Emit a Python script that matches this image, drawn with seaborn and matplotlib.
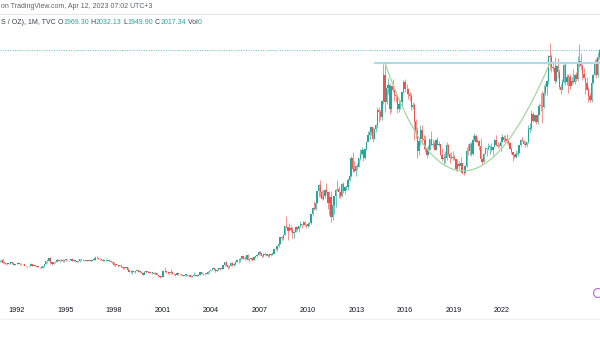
import numpy as np
import pandas as pd
import matplotlib
matplotlib.use("Agg")
import matplotlib.pyplot as plt
import seaborn as sns
from matplotlib.path import Path
from matplotlib.patches import PathPatch, Ellipse
from matplotlib.lines import Line2D
import matplotlib.transforms as mtransforms

# ---------------- data (monthly gold, USD / oz) ----------------
start_month = "1990-11-01"
first_open = 380.0

closes = [
    384, 386,  # 1990 Nov-Dec
    366, 363, 356, 357, 360, 368, 362, 347, 354, 358, 366, 353,  # 1991
    354, 353, 341, 337, 337, 343, 357, 340, 349, 339, 334, 333,  # 1992
    330, 328, 337, 355, 378, 378, 401, 371, 355, 369, 371, 391,  # 1993
    378, 381, 389, 376, 387, 386, 384, 385, 394, 383, 383, 383,  # 1994
    375, 376, 392, 389, 385, 387, 383, 382, 384, 383, 387, 387,  # 1995
    405, 400, 396, 392, 391, 382, 385, 387, 379, 379, 371, 369,  # 1996
    345, 358, 348, 340, 345, 334, 326, 325, 332, 311, 296, 290,  # 1997
    304, 297, 301, 310, 293, 296, 288, 273, 294, 292, 294, 288,  # 1998
    287, 287, 279, 286, 268, 261, 255, 255, 299, 299, 292, 290,  # 1999
    283, 293, 278, 275, 272, 288, 276, 277, 273, 264, 269, 273,  # 2000
    266, 267, 258, 264, 266, 270, 266, 273, 293, 279, 275, 279,  # 2001
    282, 297, 302, 308, 326, 318, 304, 312, 324, 317, 319, 347,  # 2002
    368, 347, 334, 338, 364, 346, 354, 375, 385, 384, 398, 416,  # 2003
    402, 396, 427, 387, 395, 395, 391, 408, 415, 428, 453, 438,  # 2004
    422, 435, 428, 435, 417, 435, 429, 433, 473, 470, 495, 513,  # 2005
    568, 556, 582, 654, 643, 614, 633, 624, 599, 604, 646, 632,  # 2006
    650, 665, 663, 679, 659, 650, 666, 672, 743, 789, 783, 834,  # 2007
    923, 971, 917, 864, 885, 928, 913, 833, 880, 718, 816, 882,  # 2008
    928, 942, 916, 883, 979, 926, 954, 955, 1008, 1040, 1182, 1096,  # 2009
    1081, 1118, 1113, 1180, 1213, 1244, 1181, 1248, 1307, 1357, 1386, 1421,  # 2010
    1332, 1410, 1439, 1556, 1536, 1500, 1628, 1826, 1620, 1722, 1746, 1565,  # 2011
    1738, 1710, 1669, 1664, 1560, 1604, 1614, 1692, 1773, 1719, 1714, 1676,  # 2012
    1663, 1578, 1596, 1472, 1393, 1234, 1312, 1396, 1327, 1323, 1250, 1202,  # 2013
    1244, 1326, 1284, 1291, 1246, 1322, 1282, 1287, 1208, 1171, 1183, 1184,  # 2014
    1283, 1213, 1183, 1183, 1190, 1172, 1095, 1133, 1115, 1142, 1065, 1061,  # 2015
    1118, 1238, 1233, 1293, 1215, 1322, 1351, 1309, 1316, 1277, 1173, 1152,  # 2016
    1211, 1249, 1249, 1268, 1268, 1242, 1269, 1322, 1280, 1271, 1275, 1303,  # 2017
    1345, 1318, 1325, 1315, 1299, 1253, 1224, 1201, 1192, 1215, 1222, 1282,  # 2018
    1321, 1313, 1292, 1283, 1305, 1409, 1413, 1520, 1472, 1513, 1464, 1517,  # 2019
    1589, 1585, 1577, 1687, 1730, 1781, 1975, 1968, 1886, 1879, 1776, 1898,  # 2020
    1848, 1734, 1708, 1769, 1907, 1770, 1814, 1813, 1743, 1783, 1774, 1829,  # 2021
    1796, 1909, 1937, 1897, 1838, 1807, 1766, 1711, 1661, 1633, 1768, 1824,  # 2022
    1928, 1827, 1969, 2017.34,  # 2023
]

highs = [
    387, 395,
    404, 370, 366, 361, 363, 370, 371, 362, 357, 362, 369, 367,
    361, 358, 355, 342, 340, 344, 362, 357, 350, 349, 338, 338,
    333, 332, 338, 358, 378, 379, 406, 407, 366, 373, 380, 393,
    397, 385, 392, 392, 390, 396, 389, 387, 397, 399, 389, 386,
    384, 381, 395, 396, 392, 391, 390, 389, 388, 389, 390, 392,
    418, 415, 402, 400, 394, 392, 389, 393, 389, 389, 384, 378,
    369, 365, 357, 348, 352, 346, 336, 332, 336, 334, 313, 300,
    310, 303, 305, 316, 305, 301, 298, 290, 298, 303, 300, 298,
    292, 290, 291, 291, 288, 274, 265, 260, 310, 330, 300, 292,
    291, 316, 298, 288, 280, 295, 289, 280, 278, 274, 273, 277,
    272, 269, 270, 266, 294, 278, 270, 280, 294, 292, 284, 282,
    285, 298, 304, 312, 328, 330, 321, 318, 327, 322, 322, 349,
    369, 382, 352, 341, 374, 372, 361, 377, 389, 394, 400, 417,
    427, 419, 429, 431, 397, 400, 408, 416, 421, 431, 456, 456,
    429, 438, 446, 437, 437, 441, 433, 447, 473, 481, 497, 540,
    570, 574, 586, 654, 730, 629, 676, 663, 643, 611, 650, 640,
    655, 690, 670, 694, 693, 671, 684, 676, 746, 790, 845, 837,
    927, 976, 1011, 935, 932, 937, 989, 917, 922, 922, 823, 882,
    943, 1006, 962, 915, 983, 992, 959, 960, 1024, 1070, 1195, 1227,
    1161, 1128, 1141, 1183, 1249, 1266, 1238, 1251, 1307, 1388, 1424, 1431,
    1424, 1411, 1447, 1575, 1577, 1555, 1631, 1913, 1921, 1729, 1803, 1764,
    1744, 1792, 1714, 1677, 1673, 1640, 1630, 1694, 1791, 1796, 1755, 1724,
    1694, 1683, 1617, 1609, 1488, 1424, 1348, 1434, 1434, 1362, 1362, 1267,
    1280, 1332, 1392, 1331, 1312, 1325, 1345, 1312, 1286, 1255, 1209, 1238,
    1307, 1293, 1222, 1224, 1232, 1205, 1174, 1170, 1157, 1191, 1142, 1088,
    1128, 1263, 1287, 1304, 1303, 1362, 1375, 1368, 1345, 1318, 1338, 1181,
    1220, 1264, 1262, 1295, 1283, 1296, 1270, 1326, 1357, 1306, 1299, 1306,
    1366, 1361, 1356, 1365, 1327, 1309, 1265, 1218, 1214, 1243, 1237, 1284,
    1326, 1346, 1324, 1310, 1306, 1439, 1453, 1555, 1535, 1518, 1516, 1524,
    1611, 1689, 1704, 1747, 1765, 1789, 1981, 2075, 1992, 1933, 1965, 1906,
    1959, 1872, 1755, 1798, 1913, 1917, 1832, 1834, 1836, 1814, 1877, 1831,
    1853, 1974, 2070, 1998, 1910, 1879, 1790, 1808, 1735, 1683, 1786, 1833,
    1949, 1960, 2009, 2032.13,
]

lows = [
    375, 373,
    366, 357, 352, 353, 355, 358, 359, 346, 346, 353, 357, 351,
    350, 351, 339, 336, 334, 336, 342, 339, 339, 337, 331, 330,
    327, 326, 326, 336, 354, 362, 379, 355, 349, 355, 363, 372,
    376, 375, 376, 369, 374, 380, 378, 377, 384, 381, 376, 375,
    371, 372, 373, 385, 381, 383, 382, 380, 380, 381, 382, 384,
    385, 394, 393, 389, 386, 381, 380, 383, 378, 377, 370, 366,
    342, 341, 347, 336, 339, 334, 318, 319, 322, 307, 296, 283,
    279, 294, 288, 302, 291, 286, 286, 272, 276, 289, 291, 283,
    283, 282, 279, 278, 268, 257, 251, 252, 255, 290, 288, 280,
    280, 282, 276, 271, 263, 273, 274, 270, 270, 262, 263, 265,
    262, 255, 256, 254, 261, 265, 263, 264, 270, 276, 270, 271,
    276, 279, 287, 300, 308, 313, 296, 301, 311, 311, 315, 316,
    344, 343, 320, 322, 337, 342, 343, 350, 369, 367, 373, 398,
    393, 390, 392, 384, 375, 389, 382, 391, 399, 411, 426, 430,
    413, 412, 424, 421, 414, 414, 415, 428, 431, 463, 455, 487,
    514, 543, 543, 583, 635, 543, 614, 603, 560, 560, 604, 613,
    603, 644, 637, 661, 652, 640, 645, 653, 668, 728, 774, 773,
    831, 880, 878, 863, 851, 866, 900, 786, 735, 682, 702, 745,
    801, 924, 867, 866, 879, 912, 904, 930, 932, 1002, 1031, 1075,
    1075, 1044, 1086, 1114, 1164, 1204, 1157, 1175, 1245, 1316, 1329, 1357,
    1308, 1330, 1381, 1417, 1462, 1478, 1478, 1604, 1535, 1600, 1679, 1523,
    1542, 1692, 1627, 1613, 1527, 1540, 1563, 1589, 1687, 1694, 1676, 1636,
    1626, 1555, 1565, 1321, 1338, 1180, 1207, 1284, 1291, 1251, 1227, 1182,
    1204, 1241, 1281, 1269, 1240, 1240, 1282, 1271, 1204, 1161, 1131, 1142,
    1167, 1198, 1142, 1170, 1169, 1162, 1077, 1077, 1098, 1136, 1053, 1046,
    1061, 1111, 1208, 1208, 1200, 1207, 1310, 1302, 1304, 1242, 1171, 1124,
    1146, 1210, 1195, 1243, 1214, 1236, 1205, 1265, 1274, 1261, 1265, 1236,
    1302, 1307, 1303, 1301, 1282, 1251, 1211, 1160, 1180, 1182, 1196, 1221,
    1276, 1311, 1281, 1266, 1266, 1296, 1382, 1400, 1459, 1458, 1445, 1446,
    1517, 1548, 1451, 1568, 1670, 1671, 1757, 1863, 1849, 1860, 1764, 1775,
    1802, 1717, 1677, 1721, 1766, 1750, 1751, 1688, 1721, 1746, 1761, 1753,
    1781, 1781, 1891, 1872, 1787, 1805, 1681, 1709, 1615, 1617, 1616, 1765,
    1823, 1804, 1810, 1949.90,
]

tick_years = [1992, 1995, 1998, 2001, 2004, 2007, 2010, 2013, 2016, 2019, 2022]

last_price = 2017.34
resistance_level = 1921.0
resistance_start = 2011.07
cup_start = (2011.667, 1921.0)
cup_bottom = (2015.9, 1080.0)
cup_end = (2020.583, 1921.0)

header_1 = "on TradingView.com, Apr 12, 2023 07:02 UTC+3"
header_2 = [("S / OZ), 1M, TVC ", "dark"), ("O", "dark"), ("1969.30", "up"),
            (" H", "dark"), ("2032.13", "up"), (" L", "dark"), ("1949.90", "up"),
            (" C", "dark"), ("2017.34", "up"), (" Vol", "dark"), ("0", "up")]

# ---------------- frame ----------------
dates = pd.date_range(start_month, periods=len(closes), freq="MS")
df = pd.DataFrame({"date": dates, "close": closes, "high": highs, "low": lows})
df["open"] = [first_open] + closes[:-1]
df.loc[df.index[-1], "open"] = 1969.30
df["t"] = df["date"].dt.year + (df["date"].dt.month - 1) / 12.0
df["up"] = df["close"] >= df["open"]

UP = "#26a69a"
DOWN = "#ef5350"
DARK = "#3b3f4a"

sns.set_theme(style="white")
plt.rcParams["font.family"] = ["Liberation Sans", "DejaVu Sans"]

W, H = 600, 338
fig = plt.figure(figsize=(6.0, 3.38), dpi=100)
fig.patch.set_facecolor("white")
ax = fig.add_axes([0, 0, 1, 1])
ax.set_facecolor("white")
ax.set_xlim(1990.856, 2023.29)
ax.set_ylim(-219.6, 2410)
ax.axis("off")

colors = np.where(df["up"], UP, DOWN)
# wicks
ax.vlines(df["t"], df["low"], df["high"], colors=colors, linewidth=0.55, alpha=0.8, zorder=2)
# bodies
body_bottom = np.minimum(df["open"], df["close"])
body_height = np.maximum(np.abs(df["close"] - df["open"]), 6)
ax.bar(df["t"], body_height, bottom=body_bottom, width=0.072, color=colors,
       linewidth=0, zorder=3)

# last price dotted line
ax.axhline(last_price, color=UP, lw=0.7, ls=(0, (1, 1.5)), alpha=0.7, zorder=1)
# resistance (2011 high)
ax.hlines(resistance_level, resistance_start, 2024, color="#a9dde6", lw=1.5, zorder=4)
# cup curve (quadratic bezier through bottom point)
p0 = np.array(cup_start)
p2 = np.array(cup_end)
b = np.array(cup_bottom)
p1 = 2 * b - (p0 + p2) / 2
cup = PathPatch(Path([p0, p1, p2], [Path.MOVETO, Path.CURVE3, Path.CURVE3]),
                fill=False, ec="#a5d6a0", lw=0.9, zorder=5)
ax.add_patch(cup)

# header lines
fig.add_artist(Line2D([0, 1], [1 - 14 / H] * 2, transform=fig.transFigure,
                      color="#e6e8ee", lw=0.8))
fig.add_artist(Line2D([0, 1], [1 - 319 / H] * 2, transform=fig.transFigure,
                      color="#eef0f4", lw=0.8))

HFS = 5.0
fig.text(1 / W, 1 - 7 / H, header_1, fontsize=HFS, color="#5d606b", va="center", ha="left")

fig.canvas.draw()
renderer = fig.canvas.get_renderer()
x_px = 1.0
for txt, kind in header_2:
    t = fig.text(x_px / W, 1 - 22 / H, txt, fontsize=HFS,
                 color=UP if kind == "up" else DARK, va="center", ha="left")
    bb = t.get_window_extent(renderer=renderer)
    x_px += bb.width

# time axis labels (own scale)
ax2 = fig.add_axes([0, 0, 1, 1], frameon=False)
ax2.patch.set_alpha(0)
ax2.set_xlim(1990.95, 2028.06)
ax2.set_ylim(0, 1)
ax2.set_xticks([])
ax2.set_yticks([])
blend = mtransforms.blended_transform_factory(ax2.transData, ax2.transAxes)
for yr in tick_years:
    ax2.text(yr, 28 / H, str(yr), fontsize=5.2, color="#131722", ha="center",
             va="center", transform=blend)

# small purple badge
fig.add_artist(Ellipse((598 / W, 1 - 293 / H), 9 / W, 9 / H, transform=fig.transFigure,
                       fill=False, ec="#b866d8", lw=0.8))

fig.savefig("out.png", dpi=100, facecolor="white")
